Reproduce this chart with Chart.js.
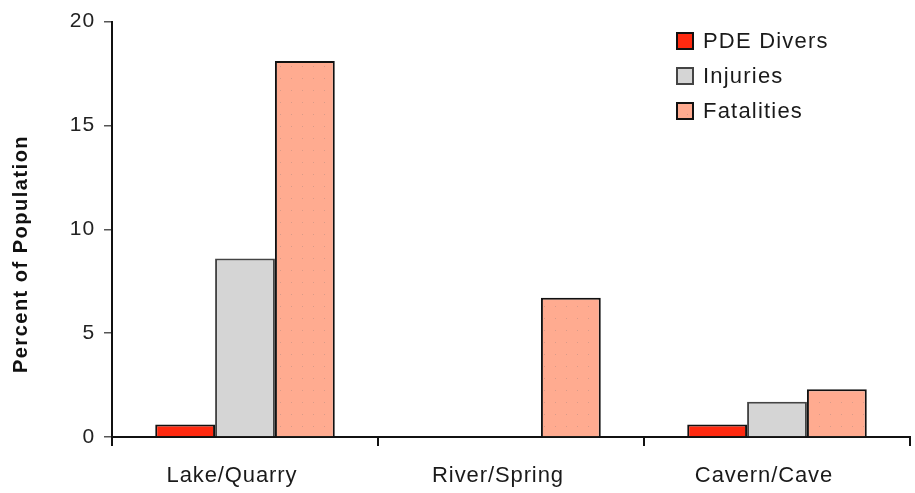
<!DOCTYPE html>
<html><head><meta charset="utf-8">
<script src="https://cdn.jsdelivr.net/npm/chart.js@4.4.1/dist/chart.umd.min.js"></script>
<style>html,body{margin:0;padding:0;background:#fff}#wrap{width:915px;height:493px}</style>
</head><body><div id="wrap"><canvas id="c" width="915" height="493"></canvas></div>
<script>
const categories = ['Lake/Quarry', 'River/Spring', 'Cavern/Cave'];
const seriesNames = ['PDE Divers', 'Injuries', 'Fatalities'];
const pdeDivers = [0.6, 0, 0.6];
const injuries = [8.6, 0, 1.7];
const fatalities = [18.1, 6.7, 2.3];
const yTicks = [0, 5, 10, 15, 20];
const yTitle = 'Percent of Population';

function dotPattern(base, dot) {
  const p = document.createElement('canvas');
  p.width = 11; p.height = 12;
  const g = p.getContext('2d');
  g.fillStyle = base; g.fillRect(0, 0, 11, 12);
  g.fillStyle = dot; g.fillRect(5, 6, 1, 1);
  return g.createPattern(p, 'repeat');
}
const salmon = dotPattern('#ffab90', '#d99a88');

const FONT = 'Liberation Sans, Arial, Helvetica, sans-serif';
const SPACING = '0.9px';

const spacingPlugin = {
  id: 'spacing',
  beforeUpdate(chart) { chart.ctx.letterSpacing = SPACING; },
  beforeDraw(chart) { chart.ctx.letterSpacing = SPACING; }
};

const extrasPlugin = {
  id: 'extras',
  afterDraw(chart) {
    const ctx = chart.ctx;
    ctx.save();
    ctx.letterSpacing = '1.5px';
    ctx.fillStyle = '#111';
    ctx.font = 'bold 20px ' + FONT;
    ctx.translate(21, 254);
    ctx.rotate(-Math.PI / 2);
    ctx.textAlign = 'center';
    ctx.textBaseline = 'middle';
    ctx.fillText(yTitle, 0, 0);
    ctx.restore();

    ctx.save();
    ctx.letterSpacing = '1.2px';
    ctx.font = '22px ' + FONT;
    ctx.textBaseline = 'middle';
    ctx.textAlign = 'left';
    chart.data.datasets.forEach((ds, i) => {
      const cy = 41 + i * 35;
      ctx.fillStyle = ds.backgroundColor;
      ctx.fillRect(677, cy - 8, 16, 16);
      ctx.lineWidth = 2;
      ctx.strokeStyle = ds.borderColor;
      ctx.strokeRect(677, cy - 8, 16, 16);
      ctx.fillStyle = '#1a1a1a';
      ctx.fillText(ds.label, 703, cy + 1);
    });
    ctx.restore();
  }
};

new Chart(document.getElementById('c'), {
  type: 'bar',
  data: {
    labels: categories,
    datasets: [
      { label: seriesNames[0], data: pdeDivers, backgroundColor: '#ff2a10', borderColor: '#111', borderWidth: 2 },
      { label: seriesNames[1], data: injuries, backgroundColor: '#d5d5d5', borderColor: '#444', borderWidth: 2 },
      { label: seriesNames[2], data: fatalities, backgroundColor: salmon, borderColor: '#111', borderWidth: 2 }
    ]
  },
  options: {
    responsive: false,
    animation: false,
    devicePixelRatio: 1,
    layout: { padding: { left: 0, right: 5, top: 20, bottom: 0 } },
    plugins: { legend: { display: false }, tooltip: { enabled: false } },
    datasets: { bar: { categoryPercentage: 0.675, barPercentage: 1.0 } },
    scales: {
      x: {
        offset: true,
        grid: { display: true, drawOnChartArea: false, drawTicks: true, tickLength: 9, offset: true, color: '#111', lineWidth: 2 },
        border: { display: true, color: '#111', width: 2 },
        ticks: { color: '#1a1a1a', font: { family: FONT, size: 22 }, padding: 17, maxRotation: 0, labelOffset: -13 },
        afterFit(s) { s.height = 56; }
      },
      y: {
        min: 0, max: 20,
        afterBuildTicks(s) { s.ticks = yTicks.map(v => ({ value: v })); },
        grid: { display: true, drawOnChartArea: false, drawTicks: true, tickLength: 8, color: '#555', lineWidth: 1.5 },
        border: { display: true, color: '#111', width: 2 },
        ticks: { color: '#222', font: { family: FONT, size: 21 }, padding: 9 },
        afterFit(s) { s.width = 112; }
      }
    }
  },
  plugins: [spacingPlugin, extrasPlugin]
});
</script>
</body></html>
